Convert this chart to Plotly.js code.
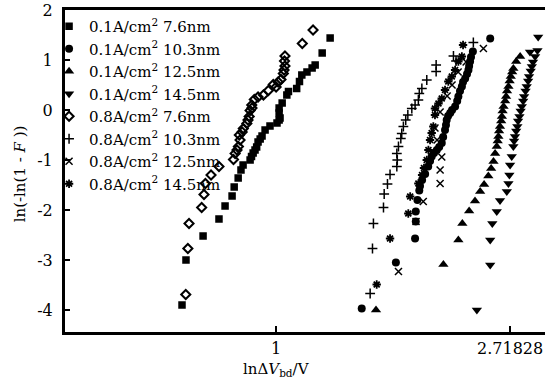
<!DOCTYPE html>
<html><head><meta charset="utf-8">
<script src="https://cdn.plot.ly/plotly-3.0.1.min.js"></script>
<style>html,body{margin:0;padding:0;overflow:hidden;background:#fff}</style>
</head><body><div id="chart" style="width:552px;height:383px"></div>
<script>
// series labels
const seriesNames = [
  '0.1A/cm<sup>2</sup> 7.6nm', '0.1A/cm<sup>2</sup> 10.3nm', '0.1A/cm<sup>2</sup> 12.5nm', '0.1A/cm<sup>2</sup> 14.5nm',
  '0.8A/cm<sup>2</sup> 7.6nm', '0.8A/cm<sup>2</sup> 10.3nm', '0.8A/cm<sup>2</sup> 12.5nm', '0.8A/cm<sup>2</sup> 14.5nm'
];
// x values: ln(ΔVbd); y values: ln(-ln(1-F))
const x_01_76 = [-0.402,-0.385,-0.312,-0.244,-0.218,-0.188,-0.179,-0.162,-0.150,-0.141,-0.111,-0.105,-0.098,-0.090,-0.083,-0.077,-0.068,-0.060,-0.047,-0.026,0.004,0.013,0.017,0.013,0.013,0.026,0.046,0.053,0.088,0.100,0.110,0.132,0.154,0.167,0.197,0.231];
const y_01_76 = [-3.90,-3.00,-2.52,-2.18,-1.92,-1.72,-1.54,-1.36,-1.20,-1.10,-1.00,-0.93,-0.86,-0.80,-0.74,-0.64,-0.58,-0.52,-0.40,-0.32,-0.26,-0.20,-0.16,-0.06,0.04,0.14,0.30,0.37,0.43,0.57,0.70,0.76,0.84,0.90,1.14,1.44];

const x_01_103 = [0.366,0.512,0.594,0.597,0.597,0.604,0.612,0.615,0.624,0.637,0.650,0.658,0.665,0.675,0.687,0.697,0.708,0.714,0.722,0.726,0.729,0.735,0.744,0.752,0.765,0.774,0.779,0.786,0.794,0.799,0.808,0.816,0.822,0.825,0.829,0.833,0.841,0.915];
const y_01_103 = [-3.97,-3.05,-2.57,-2.23,-2.03,-1.80,-1.61,-1.52,-1.40,-1.28,-1.13,-1.02,-0.93,-0.86,-0.80,-0.74,-0.66,-0.54,-0.40,-0.30,-0.20,-0.12,-0.06,0.00,0.07,0.18,0.27,0.38,0.47,0.56,0.63,0.72,0.80,0.88,0.97,1.06,1.17,1.43];

const x_01_125 = [0.427,0.715,0.779,0.796,0.825,0.850,0.872,0.889,0.907,0.919,0.929,0.936,0.943,0.947,0.950,0.953,0.957,0.962,0.965,0.968,0.972,0.979,0.983,0.987,0.993,0.998,1.003,1.009,1.014,1.026,1.043];
const y_01_125 = [-4.00,-3.09,-2.60,-2.27,-2.02,-1.82,-1.63,-1.49,-1.32,-1.17,-1.03,-0.87,-0.73,-0.62,-0.53,-0.42,-0.33,-0.22,-0.13,-0.02,0.07,0.18,0.27,0.38,0.47,0.58,0.67,0.76,0.83,0.97,1.07];

const x_01_145 = [0.858,0.915,0.915,0.924,0.943,0.957,0.986,0.993,0.997,1.000,1.007,1.014,1.017,1.021,1.026,1.031,1.034,1.040,1.045,1.050,1.056,1.060,1.066,1.071,1.077,1.081,1.088,1.093,1.098,1.107,1.085,1.117,1.120];
const y_01_145 = [-4.00,-3.10,-2.60,-2.27,-2.03,-1.81,-1.63,-1.47,-1.30,-1.10,-0.93,-0.73,-0.62,-0.53,-0.42,-0.33,-0.22,-0.13,-0.02,0.07,0.18,0.27,0.38,0.47,0.58,0.67,0.78,0.87,0.96,1.07,1.16,1.19,1.46];

const x_08_76 = [-0.386,-0.377,-0.372,-0.318,-0.308,-0.302,-0.278,-0.244,-0.182,-0.175,-0.167,-0.161,-0.154,-0.157,-0.145,-0.140,-0.125,-0.120,-0.115,-0.111,-0.103,-0.104,-0.093,-0.077,-0.054,-0.033,-0.012,0.000,0.009,0.021,0.031,0.034,0.038,0.036,0.038,0.112,0.158];
const y_08_76 = [-3.69,-2.77,-2.27,-1.95,-1.69,-1.47,-1.30,-1.13,-0.99,-0.87,-0.80,-0.73,-0.60,-0.50,-0.44,-0.37,-0.27,-0.20,-0.13,-0.01,0.04,0.10,0.21,0.26,0.30,0.39,0.51,0.46,0.56,0.61,0.73,0.80,0.88,0.98,1.08,1.33,1.60];

const x_08_103 = [0.402,0.412,0.416,0.459,0.462,0.476,0.487,0.516,0.518,0.516,0.523,0.533,0.537,0.544,0.554,0.563,0.580,0.594,0.608,0.612,0.623,0.644,0.684,0.684,0.758,0.769,0.843];
const y_08_103 = [-3.67,-2.77,-2.27,-1.95,-1.68,-1.48,-1.29,-1.13,-1.00,-0.87,-0.73,-0.57,-0.47,-0.33,-0.20,-0.10,0.03,0.10,0.20,0.33,0.43,0.60,0.77,0.90,1.08,0.98,1.35];

const x_08_125 = [0.523,0.598,0.629,0.701,0.701,0.708,0.688,0.679,0.701,0.731,0.752,0.778,0.812,0.886];
const y_08_125 = [-3.23,-2.23,-1.83,-1.47,-1.20,-0.94,-0.60,-0.36,-0.04,0.28,0.50,0.76,0.96,1.23];

const x_08_145 = [0.430,0.487,0.565,0.573,0.608,0.624,0.632,0.644,0.651,0.658,0.665,0.672,0.679,0.679,0.694,0.708,0.722,0.736,0.751,0.765,0.779,0.794,0.799];
const y_08_145 = [-3.49,-2.57,-2.07,-1.73,-1.47,-1.30,-1.16,-1.00,-0.80,-0.60,-0.46,-0.33,-0.10,0.03,0.13,0.23,0.40,0.57,0.67,0.80,0.97,1.07,1.30];

// axis ticks
const xTickVals = [0, 1];
const xTickText = ['1', '2.71828'];
const yTickVals = [-4, -3, -2, -1, 0, 1, 2];
const yTickText = ['-4', '-3', '-2', '-1', '0', '1', '2'];

const FONT = 'DejaVu Serif';
const xs = [x_01_76, x_01_103, x_01_125, x_01_145, x_08_76, x_08_103, x_08_125, x_08_145];
const ys = [y_01_76, y_01_103, y_01_125, y_01_145, y_08_76, y_08_103, y_08_125, y_08_145];
const markers = [
  {symbol:'square', size:7.5, color:'#000'},
  {symbol:'circle', size:8, color:'#000'},
  {symbol:'triangle-up', size:9, color:'#000'},
  {symbol:'triangle-down', size:9, color:'#000'},
  {symbol:'diamond-open', size:7, color:'#000', line:{width:2, color:'#000'}},
  {symbol:'cross-thin-open', size:7, color:'#000', line:{width:1.5, color:'#000'}},
  {symbol:'x-thin-open', size:7, color:'#000', line:{width:1.5, color:'#000'}},
  {symbol:'asterisk-open', size:7, color:'#000', line:{width:1.8, color:'#000'}}
];
const traces = xs.map((x, i) => ({
  type: 'scatter', mode: 'markers', x: x, y: ys[i], name: seriesNames[i],
  marker: markers[i], hoverinfo: 'none'
}));

const layout = {
  width: 552, height: 383,
  margin: {l: 65, r: 4, t: 10, b: 51},
  paper_bgcolor: '#fff', plot_bgcolor: '#fff',
  font: {family: FONT, size: 16, color: '#000'},
  showlegend: true,
  legend: {x: -0.033, y: 1.0, xanchor: 'left', yanchor: 'top', bgcolor: 'rgba(0,0,0,0)',
           font: {family: FONT, size: 15, color: '#000'}, itemsizing: 'trace', tracegroupgap: 0},
  xaxis: {range: [-0.902, 1.162], showgrid: false, zeroline: false, showline: true, linewidth: 3,
          linecolor: '#000', mirror: true, ticks: 'inside', ticklen: 6, tickwidth: 2, tickcolor: '#000',
          tickvals: xTickVals, ticktext: xTickText, tickfont: {family: FONT, size: 16}},
  yaxis: {range: [-4.44, 2], showgrid: false, zeroline: false, showline: true, linewidth: 3,
          linecolor: '#000', mirror: true, ticks: 'inside', ticklen: 5, tickwidth: 2, tickcolor: '#000',
          tickvals: yTickVals, ticktext: yTickText, ticklabelstandoff: 6, tickfont: {family: FONT, size: 16}},
  annotations: [
    {text: 'lnΔ<i>V</i><sub>bd</sub>/V', xref: 'x', yref: 'paper', x: 0, y: -0.118,
     xanchor: 'center', yanchor: 'middle', showarrow: false, font: {family: FONT, size: 15}},
    {text: 'ln(-ln(1 - <i>F</i> ))', xref: 'paper', yref: 'paper', x: -0.093, y: 0.49,
     xanchor: 'center', yanchor: 'middle', textangle: -90, showarrow: false, font: {family: FONT, size: 15}}
  ]
};
Plotly.newPlot('chart', traces, layout, {staticPlot: true, displayModeBar: false});
</script></body></html>
